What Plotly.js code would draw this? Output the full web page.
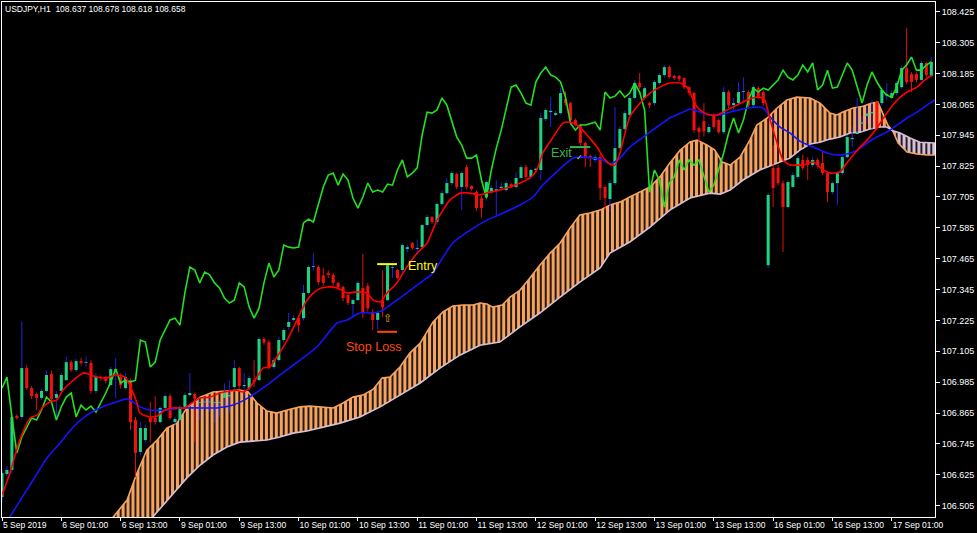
<!DOCTYPE html>
<html><head><meta charset="utf-8">
<script src="https://cdn.plot.ly/plotly-3.0.1.min.js"></script>
<style>html,body{margin:0;padding:0;background:#000;}#chart{width:977px;height:533px;}</style>
</head><body><div id="chart"></div>
<script>
// ---- candles (H1 bars, index 0 = first visible bar) ----
const open = [106.539,106.628,106.644,106.854,106.850,107.040,106.962,106.939,106.924,106.951,
107.017,106.924,106.951,106.993,107.063,107.032,107.067,107.060,107.060,106.951,
107.005,107.005,106.974,107.032,107.005,106.962,106.993,106.838,106.714,106.760,
106.846,106.846,106.830,106.885,106.931,106.830,106.838,106.889,106.935,106.939,
106.905,106.907,106.907,106.905,106.905,106.924,106.930,106.966,107.040,106.970,
106.962,106.993,106.993,107.153,107.141,107.044,107.071,107.149,107.200,107.227,
107.234,107.234,107.332,107.433,107.433,107.400,107.409,107.402,107.371,107.355,
107.324,107.289,107.304,107.351,107.359,107.258,107.227,107.304,107.304,107.430,
107.421,107.421,107.503,107.526,107.503,107.510,107.596,107.627,107.608,107.678,
107.720,107.759,107.794,107.744,107.821,107.748,107.724,107.700,107.705,107.724,
107.728,107.740,107.732,107.755,107.744,107.779,107.821,107.783,107.810,107.810,
108.008,108.035,108.024,108.031,108.086,108.070,108.004,107.985,107.915,107.865,
107.849,107.860,107.744,107.697,107.759,107.895,107.969,108.024,108.090,108.148,
108.090,108.070,108.070,108.148,108.179,108.210,108.175,108.175,108.167,108.132,
108.109,107.973,108.000,107.957,108.024,108.004,107.957,108.113,108.062,108.070,
108.113,108.113,108.062,108.128,108.113,107.440,107.818,107.818,107.759,107.666,
107.744,107.783,107.849,107.849,107.829,107.849,107.837,107.798,107.724,107.759,
107.798,107.860,107.930,107.950,107.990,108.020,108.030,108.074,108.070,108.100,
108.090,108.109,108.132,108.206,108.183,108.183,108.160,108.226,108.175];
const high = [106.645,106.660,106.860,106.860,107.220,107.050,106.970,106.945,106.960,107.030,
107.030,106.950,107.020,107.083,107.070,107.075,107.080,107.085,107.070,107.020,
107.010,107.010,107.045,107.079,107.020,107.020,107.000,106.850,106.830,106.820,
106.908,106.930,106.890,106.940,106.940,106.850,106.895,106.940,107.021,106.945,
106.916,106.920,106.930,106.910,106.915,106.980,106.993,107.071,107.045,107.020,
107.010,107.071,107.160,107.160,107.150,107.080,107.160,107.195,107.254,107.245,
107.240,107.363,107.440,107.487,107.440,107.430,107.420,107.410,107.375,107.360,
107.330,107.310,107.380,107.483,107.370,107.270,107.260,107.421,107.450,107.440,
107.425,107.525,107.520,107.530,107.540,107.600,107.635,107.630,107.685,107.730,
107.779,107.805,107.800,107.805,107.830,107.750,107.730,107.710,107.770,107.750,
107.770,107.760,107.770,107.760,107.800,107.830,107.830,107.815,107.820,108.030,
108.050,108.093,108.040,108.128,108.115,108.075,108.010,107.990,107.920,107.870,
107.870,107.870,107.750,107.770,108.055,107.980,108.040,108.100,108.160,108.187,
108.135,108.075,108.160,108.187,108.218,108.215,108.180,108.180,108.170,108.135,
108.115,107.980,108.070,107.990,108.030,108.010,108.132,108.120,108.090,108.152,
108.171,108.120,108.140,108.135,108.120,107.720,107.907,107.830,107.770,107.770,
107.800,107.865,107.870,107.860,107.860,107.855,107.880,107.800,107.765,107.805,
107.870,107.945,107.977,108.090,108.020,108.055,108.082,108.080,108.130,108.148,
108.120,108.155,108.215,108.362,108.190,108.190,108.235,108.230,108.249];
const low = [106.520,106.620,106.630,106.840,106.840,106.955,106.920,106.877,106.915,106.945,
106.910,106.838,106.945,106.990,107.025,107.025,107.050,107.045,106.940,106.940,
106.990,106.980,106.970,106.924,106.960,106.955,106.800,106.616,106.700,106.750,
106.752,106.820,106.825,106.880,106.840,106.820,106.830,106.885,106.930,106.752,
106.838,106.880,106.870,106.826,106.850,106.890,106.865,106.960,106.960,106.930,
106.955,106.966,106.990,107.130,107.035,107.035,107.065,107.140,107.190,107.220,
107.180,107.225,107.325,107.420,107.365,107.360,107.390,107.360,107.345,107.300,
107.285,107.238,107.300,107.234,107.260,107.188,107.190,107.238,107.300,107.390,
107.385,107.410,107.490,107.500,107.480,107.505,107.590,107.600,107.600,107.670,
107.715,107.750,107.735,107.654,107.735,107.730,107.650,107.625,107.690,107.720,
107.627,107.730,107.725,107.740,107.740,107.775,107.775,107.775,107.800,107.771,
108.000,107.977,108.020,108.025,108.060,107.995,107.980,107.905,107.821,107.821,
107.840,107.693,107.654,107.647,107.750,107.890,107.960,108.020,108.085,108.125,
108.085,108.050,108.060,108.140,108.170,108.165,108.160,108.155,108.125,108.100,
107.955,107.919,107.940,107.950,107.970,107.950,107.950,108.050,108.040,108.060,
108.070,108.055,108.055,108.085,108.060,107.430,107.666,107.750,107.491,107.660,
107.740,107.775,107.810,107.771,107.820,107.820,107.790,107.685,107.715,107.674,
107.790,107.855,107.900,107.950,107.960,107.990,107.970,107.965,108.060,108.080,
108.085,108.100,108.125,108.145,108.113,108.150,108.155,108.170,108.170];
const close = [106.632,106.644,106.850,106.846,107.040,106.962,106.931,106.924,106.951,107.013,
106.920,106.939,107.013,107.063,107.032,107.067,107.060,107.062,106.951,107.005,
107.001,106.990,107.036,107.034,106.974,107.005,106.830,106.710,106.807,106.807,
106.830,106.830,106.885,106.931,106.846,106.842,106.889,106.935,106.943,106.920,
106.907,106.909,106.910,106.907,106.908,106.947,106.935,107.040,106.970,106.974,
107.001,106.986,107.153,107.139,107.044,107.071,107.149,107.188,107.219,107.234,
107.207,107.332,107.433,107.436,107.374,107.371,107.402,107.371,107.355,107.312,
107.293,107.304,107.371,107.254,107.273,107.227,107.254,107.276,107.440,107.433,
107.390,107.518,107.510,107.507,107.507,107.596,107.627,107.608,107.678,107.720,
107.759,107.798,107.744,107.798,107.744,107.736,107.662,107.662,107.763,107.740,
107.735,107.745,107.759,107.748,107.779,107.821,107.783,107.810,107.815,108.012,
108.043,108.040,108.031,108.109,108.070,108.004,107.985,107.915,107.860,107.856,
107.860,107.740,107.701,107.759,107.895,107.969,108.031,108.090,108.148,108.132,
108.128,108.062,108.152,108.179,108.210,108.171,108.167,108.163,108.132,108.109,
107.965,107.957,107.960,107.977,107.977,107.957,108.113,108.062,108.070,108.113,
108.115,108.062,108.132,108.093,108.070,107.713,107.740,107.759,107.666,107.763,
107.790,107.856,107.818,107.829,107.849,107.829,107.798,107.724,107.759,107.798,
107.860,107.938,107.935,107.955,107.995,108.030,108.035,107.973,108.121,108.105,
108.109,108.148,108.206,108.152,108.152,108.160,108.226,108.179,108.230];

// ---- Ichimoku lines ----
const chikou = [106.962,107.005,106.850,106.710,106.772,106.811,106.846,106.838,106.877,106.927,
106.908,106.838,106.889,106.927,106.943,106.850,106.896,106.877,106.892,106.869,
106.904,106.943,106.986,107.036,106.982,106.993,106.986,106.993,107.149,107.141,
107.044,107.063,107.149,107.188,107.227,107.234,107.207,107.332,107.433,107.421,
107.371,107.413,107.402,107.371,107.351,107.312,107.293,107.304,107.371,107.355,
107.277,107.234,107.273,107.371,107.448,107.394,107.421,107.518,107.510,107.507,
107.510,107.604,107.619,107.608,107.681,107.744,107.790,107.798,107.751,107.794,
107.771,107.701,107.662,107.705,107.759,107.724,107.732,107.724,107.755,107.751,
107.810,107.849,107.783,107.798,107.818,107.946,108.035,108.031,108.043,108.090,
108.062,107.996,107.938,107.907,107.856,107.856,107.868,107.771,107.701,107.810,
107.895,107.965,108.055,108.132,108.140,108.109,108.070,108.062,108.152,108.187,
108.210,108.179,108.171,108.152,108.093,107.992,107.965,107.985,107.985,107.992,
107.996,107.965,108.113,108.090,108.097,108.117,108.093,108.109,108.148,108.113,
108.043,107.724,107.810,107.771,107.666,107.759,107.783,107.849,107.810,107.849,
107.829,107.849,107.790,107.724,107.751,107.810,107.876,107.954,108.012,107.954,
108.004,108.082,108.128,108.113,108.128,108.121,108.140,108.160,108.198,108.171,
108.160,108.179,108.218,108.191,108.226,108.121,108.140,108.198,108.128,108.132,
108.179,108.226,108.198,108.132,108.070,108.140,108.191,108.152,108.121,108.101,
108.093,108.132,108.198,108.218,108.249,108.198,108.198,108.218,108.230];

const tenkanX = [0,1.6,3.6,5.7,7.1,8.3,9.7,11.1,12.3,13.8,15.2,16.4,17.4,19.2,21.2,22.9,24.9,26.3,27.3,27.9,29.9,31.4,33,34.6,37,38.4,40.1,42.1,44.1,46.1,47.5,48.8,50.2,51.6,52.8,54.2,55.6,57.7,59.7,61.7,63.7,65.7,67.8,69.8,71.8,73.8,75.1,76.5,77.9,79.9,81.9,84,86,88,90.6,92.7,94.7,96.7,98.7,100.7,102.8,104.8,106.8,108.2,109.4,111.5,113.5,114.9,116.3,117.5,118.9,120.4,121.6,123,124,125,127,129.1,131.1,133.1,135.1,137.2,138.6,139.6,140.6,141.8,143.2,144.7,145.9,147.9,149.9,151.9,153.3,154.3,155.4,156.8,158,159.4,160.8,162,164.1,166.1,167.5,169.5,170.9,173,175,177,179,181.1,183.1,185.1,186.7,188.1];
const tenkan = [106.546,106.632,106.760,106.846,106.857,106.889,106.908,106.916,106.954,106.982,107.005,107.021,107.017,107.005,107.001,107.013,107.005,106.954,106.904,106.865,106.850,106.854,106.877,106.885,106.885,106.904,106.924,106.927,106.943,106.951,106.954,106.947,106.966,107.005,107.040,107.044,107.083,107.149,107.227,107.304,107.343,107.355,107.351,107.332,107.336,107.332,107.304,107.297,107.332,107.371,107.433,107.487,107.526,107.615,107.693,107.720,107.720,107.713,107.724,107.732,107.744,107.759,107.779,107.810,107.876,107.938,107.992,107.996,107.985,107.965,107.934,107.899,107.860,107.833,107.829,107.876,108.016,108.070,108.109,108.132,108.148,108.148,108.132,108.093,108.055,108.035,108.024,108.024,108.035,108.055,108.074,108.090,108.093,108.082,108.004,107.915,107.849,107.829,107.829,107.829,107.841,107.810,107.798,107.802,107.837,107.887,107.926,107.973,108.031,108.082,108.113,108.132,108.160,108.179];

const kijunX = [0,1.6,6.3,9.1,11.7,14.4,17.2,19.8,22.5,25.3,26.5,27.9,29.9,33.4,36.6,40.1,43.5,46.7,49.8,53.6,56.8,60.3,63.7,67.8,69.8,72.4,75.1,77.1,79.1,81.9,84.6,87.2,88.6,91.2,94.7,98.1,101.4,104.8,107.4,109.4,111.5,113.5,115.5,117.5,119.6,121.6,123,125,127,129.7,132.5,135.1,137.8,139.2,141.2,143.2,145.3,147.3,149.9,152.7,154,155.4,157.4,159.4,161.4,164.1,166.9,168.9,170.9,173,175,177,179,181.1,183.1,185.1,187.7,188.75];
const kijun = [106.40,106.461,106.605,106.690,106.748,106.811,106.857,106.885,106.904,106.920,106.908,106.889,106.877,106.877,106.885,106.885,106.885,106.896,106.924,106.974,107.021,107.071,107.122,107.215,107.227,107.254,107.254,107.265,107.293,107.332,107.371,107.409,107.452,107.526,107.576,107.615,107.643,107.674,107.705,107.751,107.790,107.825,107.856,107.860,107.856,107.849,107.833,107.856,107.899,107.938,107.977,108.012,108.035,108.047,108.035,108.024,108.024,108.035,108.047,108.055,108.051,108.016,107.977,107.954,107.922,107.899,107.876,107.868,107.872,107.887,107.915,107.938,107.957,107.985,108.012,108.035,108.070,108.082];

const spanAX = [21.4,22.5,25.3,27.3,29.3,31.4,33.4,35.4,37.4,40.1,42.7,45.5,48.1,49.8,51.6,53.6,55.6,57.7,60.3,62.3,64.3,67,69,71,73,75.1,76.9,78.5,80.5,82.5,84.6,86,87.2,89.2,91.2,93.3,95.3,96.7,98.1,99.3,101.2,102.8,104.8,106.8,108.8,110.9,112.9,114.9,116.9,118.9,121,123,125,127,129.1,131.1,133.1,135.1,137.2,139.2,140.6,142.6,144.2,145.7,147.3,149.3,151.3,152.7,154.8,156.8,158.8,160.8,163.5,165.5,167.5,168.9,170.1,172.2,174.2,176,177.2,178.2,179.2,180.2,181.3,183.1,185.1,187.1,188.75];
const spanA = [106.41,106.461,106.527,106.632,106.721,106.760,106.807,106.826,106.885,106.927,106.947,106.951,106.954,106.947,106.904,106.873,106.865,106.877,106.889,106.892,106.889,106.885,106.904,106.927,106.935,106.958,107.001,107.005,107.044,107.098,107.137,107.180,107.219,107.258,107.281,107.285,107.285,107.293,107.289,107.277,107.285,107.316,107.343,107.390,107.440,107.487,107.526,107.584,107.635,107.643,107.654,107.674,107.685,107.705,107.724,107.744,107.783,107.837,107.887,107.919,107.926,107.907,107.887,107.841,107.829,107.860,107.926,107.985,108.012,108.051,108.082,108.093,108.090,108.070,108.031,108.024,108.035,108.051,108.058,108.070,108.074,108.031,107.985,107.962,107.915,107.880,107.872,107.868,107.868];

const spanBX = [21.4,27.9,30.5,34.6,37.4,40.1,42.7,45.5,48.1,50.8,53.6,56.2,58.9,61.7,64.3,68.4,72.4,76.5,80.5,84.6,88.6,92.7,96.7,100.7,104.8,108.8,112.9,116.9,121,123,127,131.1,135.1,139.2,143.2,145.3,147.3,149.9,153.3,156.8,159.4,161.4,163.5,165.5,167.5,169.5,171.6,173.6,175.6,177.6,179,180.2,181.7,183.7,185.7,188.75];
const spanB = [106.20,106.37,106.461,106.554,106.613,106.663,106.702,106.733,106.752,106.756,106.760,106.772,106.787,106.795,106.807,106.826,106.850,106.889,106.935,106.982,107.040,107.091,107.129,107.141,107.200,107.254,107.316,107.374,107.429,107.487,107.530,107.588,107.654,107.701,107.720,107.716,107.732,107.771,107.810,107.837,107.856,107.887,107.911,107.918,107.930,107.938,107.954,107.957,107.969,107.977,107.977,107.962,107.954,107.934,107.918,107.915];
const cloudCross = 180.2;   // bar where span A falls under span B

// ---- axis labels ----
const tickIndex = [0,12,24,36,48,60,72,84,96,108,120,132,144,156,168,180];
const tickText = ['5 Sep 2019','6 Sep 01:00','6 Sep 13:00','9 Sep 01:00','9 Sep 13:00','10 Sep 01:00','10 Sep 13:00','11 Sep 01:00','11 Sep 13:00','12 Sep 01:00','12 Sep 13:00','13 Sep 01:00','13 Sep 13:00','16 Sep 01:00','16 Sep 13:00','17 Sep 01:00'];

// ---- trade marks ----
const levelNames = ['Entry','Stop Loss','Exit'];
const levelPrices = [107.444, 107.181, 107.899];
const levelFrom = [75.9, 75.9, 114.9];
const levelTo = [79.9, 79.9, 119.0];

// ---------------- drawing ----------------
const C = {bullBody:'#1ed282', bearBody:'#f01010', wickUp:'#2222dd', wickDn:'#e01010',
  tenkan:'#ff0000', kijun:'#1414ff', chikou:'#22e022', spanA:'#F4A460', spanB:'#D8BFD8'};
const idx = open.map((_, i) => i);
const bull = close.map((c, i) => c >= open[i]);

function wickTrace(up) {
  const xs = [], ys = [];
  idx.forEach(i => { if (bull[i] === up) { xs.push(i, i, null); ys.push(low[i], high[i], null); } });
  return {type:'scatter', mode:'lines', x:xs, y:ys, xaxis:'x2', yaxis:'y2',
    line:{color: up ? C.wickUp : C.wickDn, width:1}, hoverinfo:'skip', showlegend:false};
}
function seg(xArr, yArr, keep) {
  const xs = [], ys = [];
  xArr.forEach((x, i) => { if (keep(x)) { xs.push(x); ys.push(yArr[i]); } });
  return {x:xs, y:ys};
}
const a1 = seg(spanAX, spanA, x => x <= cloudCross), b1 = seg(spanBX, spanB, x => x <= cloudCross);
const a2 = seg(spanAX, spanA, x => x >= cloudCross), b2 = seg(spanBX, spanB, x => x >= cloudCross);
function hatch(color) { return {shape:'|', fgcolor:color, bgcolor:'rgba(0,0,0,0)', size:4.943, solidity:0.66}; }

const traces = [
  {type:'scatter', mode:'lines', x:b1.x, y:b1.y, line:{width:0, color:C.spanB}, hoverinfo:'skip', showlegend:false},
  {type:'scatter', mode:'lines', x:a1.x, y:a1.y, line:{width:0, color:C.spanA}, fill:'tonexty',
    fillcolor:'rgba(0,0,0,0)', fillpattern:hatch(C.spanA), hoverinfo:'skip', showlegend:false},
  {type:'scatter', mode:'lines', x:a2.x, y:a2.y, line:{width:0, color:C.spanA}, hoverinfo:'skip', showlegend:false},
  {type:'scatter', mode:'lines', x:b2.x, y:b2.y, line:{width:0, color:C.spanB}, fill:'tonexty',
    fillcolor:'rgba(0,0,0,0)', fillpattern:hatch(C.spanB), hoverinfo:'skip', showlegend:false},
  {type:'scatter', mode:'lines', x:spanAX, y:spanA, line:{width:1.6, color:C.spanA}, hoverinfo:'skip', showlegend:false},
  {type:'scatter', mode:'lines', x:spanBX, y:spanB, line:{width:1.6, color:C.spanB}, hoverinfo:'skip', showlegend:false},
  wickTrace(true), wickTrace(false),
  {type:'bar', x:idx, base:open.map((o, i) => Math.min(o, close[i])),
    y:open.map((o, i) => Math.max(Math.abs(close[i] - o), 0.003)), width:0.62,
    marker:{color:bull.map(b => b ? C.bullBody : C.bearBody), line:{width:0}},
    xaxis:'x3', yaxis:'y3', hoverinfo:'skip', showlegend:false},
  {type:'scatter', mode:'lines', x:idx, y:chikou, line:{color:C.chikou, width:1.6}, xaxis:'x3', yaxis:'y3', showlegend:false},
  {type:'scatter', mode:'lines', x:kijunX, y:kijun, line:{color:C.kijun, width:1.6, shape:'spline', smoothing:0.6}, xaxis:'x3', yaxis:'y3', showlegend:false},
  {type:'scatter', mode:'lines', x:tenkanX, y:tenkan, line:{color:C.tenkan, width:1.6, shape:'spline', smoothing:0.6}, xaxis:'x3', yaxis:'y3', showlegend:false}
];
const levelColors = ['#ffff00', '#ff4a0a', '#3cb44b'];
levelNames.forEach((n, i) => traces.push({type:'scatter', mode:'lines', x:[levelFrom[i], levelTo[i]],
  y:[levelPrices[i], levelPrices[i]], line:{color:levelColors[i], width:2}, xaxis:'x3', yaxis:'y3', showlegend:false}));

const XR = [0, 188.75], YR = [106.461, 108.463];
const fam = '"Liberation Sans", Arial, sans-serif';
const xTickFont = {family:fam, size:8.5, color:'#ffffff'};
const yTickFont = {family:fam, size:9, color:'#ffffff'};
const hidden = r => ({range:r, visible:false, fixedrange:true});
const annFont = (c, s) => ({family:fam, size:s, color:c});
const layout = {
  width:977, height:533, margin:{l:2, r:42, t:2, b:16},
  paper_bgcolor:'#000000', plot_bgcolor:'#000000', showlegend:false, barmode:'overlay',
  xaxis:{range:XR, tickmode:'array', tickvals:tickIndex, ticktext:tickText, ticks:'outside', ticklen:3,
    tickangle:0, tickcolor:'#ffffff', ticklabelposition:'outside right', tickfont:xTickFont, showgrid:false, zeroline:false,
    showline:true, linecolor:'#ffffff', linewidth:1, mirror:true, fixedrange:true, automargin:false},
  yaxis:{range:YR, side:'right', tick0:106.505, dtick:0.12, tickformat:'.3f', ticks:'outside', ticklen:4,
    tickcolor:'#ffffff', tickfont:yTickFont, showgrid:false, zeroline:false, showline:true, linecolor:'#ffffff',
    linewidth:1, mirror:true, fixedrange:true, automargin:false},
  xaxis2:Object.assign(hidden(XR), {overlaying:'x'}), yaxis2:Object.assign(hidden(YR), {overlaying:'y'}),
  xaxis3:Object.assign(hidden(XR), {overlaying:'x'}), yaxis3:Object.assign(hidden(YR), {overlaying:'y'}),
  annotations:[
    {xref:'paper', yref:'paper', x:0, y:1, xanchor:'left', yanchor:'top', xshift:1, yshift:0, showarrow:false,
     text:'USDJPY,H1\u00a0 108.637 108.678 108.618 108.658', font:annFont('#ffffff', 8.5)},
    {xref:'x3', yref:'y3', x:levelTo[0] + 1.8, y:levelPrices[0] - 0.008, xanchor:'left', yanchor:'middle',
     showarrow:false, text:levelNames[0], font:annFont('#ffff00', 12.5)},
    {xref:'x3', yref:'y3', x:69.1, y:levelPrices[1] - 0.061, xanchor:'left', yanchor:'middle',
     showarrow:false, text:levelNames[1], font:annFont('#ff4a0a', 12.5)},
    {xref:'x3', yref:'y3', x:110.6, y:levelPrices[2] - 0.023, xanchor:'left', yanchor:'middle',
     showarrow:false, text:levelNames[2], font:annFont('#3cb44b', 12.5)},
    {xref:'x3', yref:'y3', x:78.0, y:107.234, showarrow:false, text:'\u21e7',
     font:{family:'"DejaVu Sans", sans-serif', size:11, color:'#e0a020'}},
    {xref:'x3', yref:'y3', x:116.8, y:107.860, showarrow:false, text:'\u2713',
     font:{family:'"DejaVu Sans", sans-serif', size:8, color:'#e8e000'}}
  ]
};
Plotly.newPlot('chart', traces, layout, {displayModeBar:false, staticPlot:true});
</script></body></html>
